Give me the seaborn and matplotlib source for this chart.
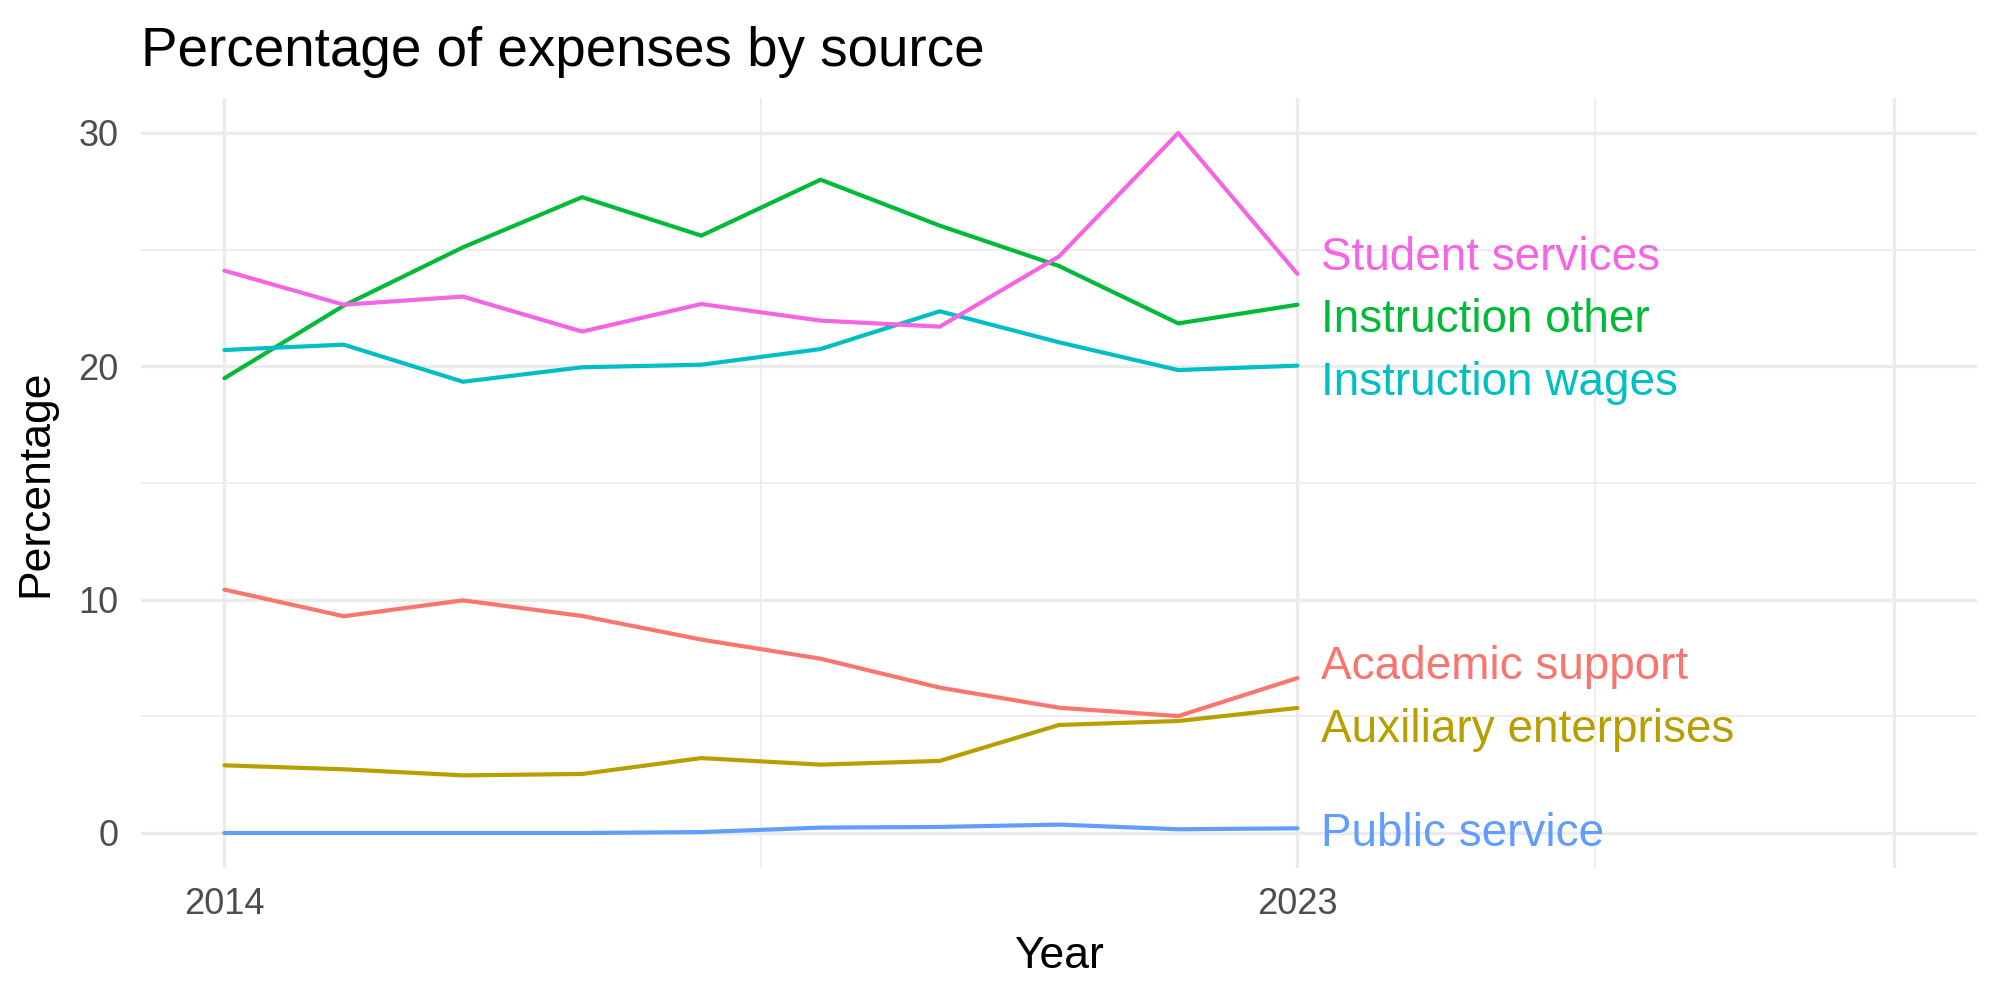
import numpy as np
import pandas as pd
import matplotlib
matplotlib.use("Agg")
import matplotlib.pyplot as plt
from matplotlib.ticker import FixedLocator
import seaborn as sns

years = [2014, 2015, 2016, 2017, 2018, 2019, 2020, 2021, 2022, 2023]
academic_support = [10.43, 9.29, 9.97, 9.30, 8.29, 7.47, 6.23, 5.37, 5.01, 6.64]
auxiliary_enterprises = [2.90, 2.73, 2.47, 2.53, 3.21, 2.93, 3.09, 4.63, 4.80, 5.36]
instruction_other = [19.49, 22.60, 25.10, 27.25, 25.60, 28.00, 26.03, 24.30, 21.84, 22.64]
instruction_wages = [20.70, 20.93, 19.34, 19.96, 20.07, 20.74, 22.36, 21.03, 19.84, 20.03]
public_service = [0.00, 0.00, 0.00, 0.00, 0.04, 0.23, 0.26, 0.36, 0.16, 0.20]
student_services = [24.10, 22.64, 22.99, 21.49, 22.67, 21.96, 21.70, 24.71, 30.00, 23.96]

sources = ["Academic support", "Auxiliary enterprises", "Instruction other",
           "Instruction wages", "Public service", "Student services"]
series = [academic_support, auxiliary_enterprises, instruction_other,
          instruction_wages, public_service, student_services]
palette = ["#F8766D", "#B79F00", "#00BA38", "#00BFC4", "#619CFF", "#F564E3"]

x_breaks = [2014, 2023, 2028]
x_labels = ["2014", "2023", ""]
x_minor = [2018.5, 2025.5]
y_breaks = [0, 10, 20, 30]
y_minor = [5, 15, 25]

rows = []
for name, vals in zip(sources, series):
    for yr, v in zip(years, vals):
        rows.append({"Year": yr, "Percentage": v, "source": name})
df = pd.DataFrame(rows)

sns.set_theme(style="white")
plt.rcParams["font.family"] = ["Liberation Sans", "DejaVu Sans"]

fig, ax = plt.subplots(figsize=(10, 5), dpi=200)
fig.subplots_adjust(left=0.0705, right=0.9885, top=0.902, bottom=0.132)

# grid
for v in x_breaks:
    ax.axvline(v, color="#EBEBEB", lw=1.2, zorder=0)
for v in x_minor:
    ax.axvline(v, color="#EBEBEB", lw=0.6, zorder=0)
for v in y_breaks:
    ax.axhline(v, color="#EBEBEB", lw=1.2, zorder=0)
for v in y_minor:
    ax.axhline(v, color="#EBEBEB", lw=0.6, zorder=0)

sns.lineplot(data=df, x="Year", y="Percentage", hue="source", hue_order=sources,
             palette=palette, lw=1.5, legend=False, ax=ax, zorder=2)

# simple label repel: cluster last values, spread with min gap
min_gap = 2.68
last = [(vals[-1], i) for i, vals in enumerate(series)]
last.sort()
clusters = [[item] for item in last]
changed = True
def positions(cl):
    m = np.mean([c[0] for c in cl])
    n = len(cl)
    return [m + (k - (n - 1) / 2) * min_gap for k in range(n)]
while changed:
    changed = False
    for k in range(len(clusters) - 1):
        a = positions(clusters[k])[-1]
        b = positions(clusters[k + 1])[0]
        if b - a < min_gap:
            clusters[k] = clusters[k] + clusters[k + 1]
            del clusters[k + 1]
            changed = True
            break
label_y = {}
for cl in clusters:
    for (v, i), p in zip(cl, positions(cl)):
        label_y[i] = p

for i, name in enumerate(sources):
    ax.annotate(name, xy=(years[-1], label_y[i] - 0.24), xytext=(8.6, 0),
                textcoords="offset points", ha="left", va="center",
                fontsize=16.5, color=palette[i])

ax.set_xlim(2013.3, 2028.7)
ax.set_ylim(-1.5, 31.5)
ax.xaxis.set_major_locator(FixedLocator(x_breaks))
ax.set_xticklabels(x_labels)
ax.yaxis.set_major_locator(FixedLocator(y_breaks))
ax.set_yticklabels([str(v) for v in y_breaks])
ax.tick_params(axis="both", length=0, labelsize=13, colors="#4D4D4D")
ax.tick_params(axis="x", pad=7)
ax.tick_params(axis="y", pad=8)
for s in ax.spines.values():
    s.set_visible(False)
ax.grid(False)

ax.set_xlabel("Year", fontsize=16, color="black", labelpad=5)
ax.set_ylabel("Percentage", fontsize=16, color="black", labelpad=8)
fig.text(0.0705, 0.948, "Percentage of expenses by source", fontsize=19.7,
         color="black", ha="left", va="center")

fig.savefig("out.png", dpi=200)
